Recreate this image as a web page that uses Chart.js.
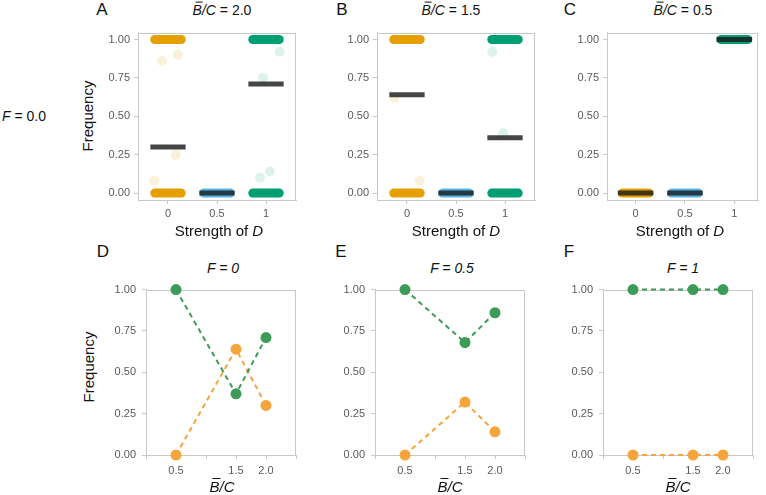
<!DOCTYPE html>
<html>
<head>
<meta charset="utf-8">
<script src="https://cdn.jsdelivr.net/npm/chart.js@4.4.0/dist/chart.umd.min.js"></script>
<style>
body { margin: 0; background: #fff; }
#fig { position: relative; width: 766px; height: 495px; overflow: hidden;
       font-family: "Liberation Sans", Arial, sans-serif; color: #111; }
#fig canvas { position: absolute; }
.lbl { position: absolute; transform: translate(-50%, -50%); white-space: nowrap; line-height: 1.2; }
.tag { font-size: 17px; }
.ttl { font-size: 14px; }
.axt { font-size: 15px; }
.ob { position: relative; }
.ob::after { content: ""; position: absolute; left: 0.18em; right: -0.08em; top: 0.02em;
             border-top: 1px solid #111; }
</style>
</head>
<body>
<div id="fig"></div>
<script>
// ---- top row: frequency of runs by strength of D ----
var strengthTicks = [0, 0.5, 1];
var strengthLabels = ["0", "0.5", "1"];
var groupColors = ["#E69F00", "#56B4E9", "#009E73"];
var groupFaint = ["rgba(230,159,0,0.15)", "rgba(86,180,233,0.15)", "rgba(0,158,115,0.13)"];

// runs piled up at 0 or 1 (group = strength slot)
var clusterGroupA = [0, 0, 1, 2, 2];
var clusterFreqA  = [1, 0, 0, 1, 0];
var meanA = [0.30, 0.00, 0.71];
var outlierGroupA = [0, 0, 0, 0, 2, 2, 2, 2];
var outlierXA = [-0.06, 0.10, 0.08, -0.14, 1.14, 0.97, 0.94, 1.04];
var outlierYA = [0.86, 0.90, 0.25, 0.08, 0.92, 0.75, 0.10, 0.14];

var clusterGroupB = [0, 0, 1, 2, 2];
var clusterFreqB  = [1, 0, 0, 1, 0];
var meanB = [0.64, 0.00, 0.36];
var outlierGroupB = [0, 0, 2, 2];
var outlierXB = [-0.13, 0.13, 0.87, 0.98];
var outlierYB = [0.62, 0.08, 0.92, 0.39];

var clusterGroupC = [0, 1, 2];
var clusterFreqC  = [0, 0, 1];
var meanC = [0.00, 0.00, 1.00];
var outlierGroupC = [];
var outlierXC = [];
var outlierYC = [];

var freqTicks = [0, 0.25, 0.5, 0.75, 1];
var freqLabels = ["0.00", "0.25", "0.50", "0.75", "1.00"];

// ---- bottom row: frequency against B/C ----
var bcValues = [0.5, 1.5, 2.0];
var bcTicks = [0, 0.5, 1, 1.5, 2, 2.5];
var bcTickLabels = ["", "0.5", "", "1.5", "2.0", ""];
var greenD = [1.00, 0.37, 0.71];
var orangeD = [0.00, 0.64, 0.30];
var greenE = [1.00, 0.68, 0.86];
var orangeE = [0.00, 0.32, 0.14];
var greenF = [1.00, 1.00, 1.00];
var orangeF = [0.00, 0.00, 0.00];

var lineGreen = "#3b9b57";
var lineOrange = "#f6a43c";
var frameColor = "#c8c8c8";
var tickColor = "#5a5a5a";

var fig = document.getElementById("fig");

var boxPlugin = {
    id: "box",
    beforeDatasetsDraw: function(chart) {
        var a = chart.chartArea, c = chart.ctx;
        c.save();
        c.strokeStyle = frameColor;
        c.lineWidth = 1;
        c.strokeRect(Math.round(a.left) + 0.5, Math.round(a.top) + 0.5,
                     Math.round(a.right - a.left) - 1, Math.round(a.bottom - a.top));
        c.restore();
    }
};

function axis(min, max, ticks, labels, isX, size, pad) {
    return {
        type: "linear",
        min: min,
        max: max,
        afterBuildTicks: function(s) {
            s.ticks = ticks.map(function(v) { return {value: v}; });
        },
        afterFit: function(s) {
            if (isX) s.height = size; else s.width = size;
        },
        ticks: {
            autoSkip: false,
            maxRotation: 0,
            padding: pad,
            color: tickColor,
            font: {family: "Liberation Sans, Arial, sans-serif", size: 11},
            callback: function(v, i) { return labels[i]; }
        },
        grid: {drawOnChartArea: false, color: frameColor, tickLength: 4},
        border: {color: frameColor}
    };
}

function addPanel(box, xr, yr, xTicks, xLabels, xPad, yPad, datasets) {
    var yw = 40, xh = 24, pad = 10;
    var left = box.l - yw, top = box.t - pad;
    var w = box.r + pad - left, h = box.b + xh - top;
    var cv = document.createElement("canvas");
    cv.width = w; cv.height = h;
    cv.style.left = left + "px"; cv.style.top = top + "px";
    cv.style.width = w + "px"; cv.style.height = h + "px";
    fig.appendChild(cv);
    return new Chart(cv, {
        type: "scatter",
        data: {datasets: datasets},
        options: {
            responsive: false,
            animation: false,
            events: [],
            layout: {padding: {top: pad, right: pad, left: 0, bottom: 0}},
            plugins: {legend: {display: false}, tooltip: {enabled: false}},
            scales: {
                x: axis(xr[0], xr[1], xTicks, xLabels, true, xh, xPad),
                y: axis(yr[0], yr[1], freqTicks, freqLabels, false, yw, yPad)
            }
        },
        plugins: [boxPlugin]
    });
}

function topSets(cGroup, cFreq, means, oGroup, oX, oY) {
    var sets = [];
    // mean bars on top
    for (var i = 0; i < means.length; ++i) {
        var s = strengthTicks[i];
        sets.push({
            data: [{x: s - 0.18, y: means[i]}, {x: s + 0.18, y: means[i]}],
            showLine: true, borderColor: "rgba(28,28,28,0.82)", borderWidth: 5,
            borderCapStyle: "butt", pointRadius: 0, clip: false, order: 0
        });
    }
    // piled-up runs
    for (var j = 0; j < cGroup.length; ++j) {
        var g = cGroup[j], sx = strengthTicks[g];
        sets.push({
            data: [{x: sx - 0.135, y: cFreq[j]}, {x: sx + 0.135, y: cFreq[j]}],
            showLine: true, borderColor: groupColors[g], borderWidth: 9,
            borderCapStyle: "round", pointRadius: 0, clip: false, order: 1
        });
    }
    // the few runs that did not fix
    var pts = [], cols = [];
    for (var k = 0; k < oX.length; ++k) {
        pts.push({x: oX[k], y: oY[k]});
        cols.push(groupFaint[oGroup[k]]);
    }
    sets.push({
        data: pts, pointRadius: 5, pointBackgroundColor: cols,
        pointBorderWidth: 0, clip: false, order: 2
    });
    return sets;
}

function bottomSets(green, orange) {
    function one(vals, col) {
        return {
            data: bcValues.map(function(b, i) { return {x: b, y: vals[i]}; }),
            showLine: true, borderColor: col, borderWidth: 2, borderDash: [5, 4],
            pointRadius: 5.5, pointBackgroundColor: col, pointBorderWidth: 0, clip: false
        };
    }
    return [one(green, lineGreen), one(orange, lineOrange)];
}

var topY = [-0.045, 1.045];
addPanel({l: 138, t: 32, r: 296, b: 200}, [-0.306, 1.306], topY, strengthTicks, strengthLabels, 3, 4,
         topSets(clusterGroupA, clusterFreqA, meanA, outlierGroupA, outlierXA, outlierYA));
addPanel({l: 377, t: 32, r: 535, b: 200}, [-0.306, 1.306], topY, strengthTicks, strengthLabels, 3, 4,
         topSets(clusterGroupB, clusterFreqB, meanB, outlierGroupB, outlierXB, outlierYB));
addPanel({l: 607, t: 32, r: 758, b: 200}, [-0.29, 1.24], topY, strengthTicks, strengthLabels, 3, 4,
         topSets(clusterGroupC, clusterFreqC, meanC, outlierGroupC, outlierXC, outlierYC));

addPanel({l: 146, t: 287, r: 296, b: 455}, [0, 2.5], [0, 1], bcTicks, bcTickLabels, 5, 6,
         bottomSets(greenD, orangeD));
addPanel({l: 375, t: 287, r: 525, b: 455}, [0, 2.5], [0, 1], bcTicks, bcTickLabels, 5, 6,
         bottomSets(greenE, orangeE));
addPanel({l: 603, t: 287, r: 753, b: 455}, [0, 2.5], [0, 1], bcTicks, bcTickLabels, 5, 6,
         bottomSets(greenF, orangeF));

function addText(html, x, y, cls, rotate) {
    var d = document.createElement("div");
    d.className = "lbl " + cls;
    d.innerHTML = html;
    d.style.left = x + "px";
    d.style.top = y + "px";
    if (rotate) d.style.transform = "translate(-50%,-50%) rotate(-90deg)";
    fig.appendChild(d);
}

var bc = "<i><span class='ob'>B</span>/C</i>";

addText("A", 102, 10, "tag");
addText("B", 342, 10, "tag");
addText("C", 570, 10, "tag");
addText("D", 103, 252, "tag");
addText("E", 341, 252, "tag");
addText("F", 569, 252, "tag");

addText(bc + " = 2.0", 222, 10, "ttl");
addText(bc + " = 1.5", 451, 10, "ttl");
addText(bc + " = 0.5", 683, 10, "ttl");

addText("<i>F = 0</i>", 223, 268, "ttl");
addText("<i>F = 0.5</i>", 452, 268, "ttl");
addText("<i>F = 1</i>", 683, 268, "ttl");

addText("<i>F</i> = 0.0", 24, 116, "ttl");

addText("Frequency", 88, 116, "axt", true);
addText("Frequency", 89, 367, "axt", true);

addText("Strength of <i>D</i>", 219, 231, "axt");
addText("Strength of <i>D</i>", 456, 231, "axt");
addText("Strength of <i>D</i>", 680, 231, "axt");

addText(bc, 222, 487, "axt");
addText(bc, 450, 487, "axt");
addText(bc, 678, 487, "axt");
</script>
</body>
</html>
